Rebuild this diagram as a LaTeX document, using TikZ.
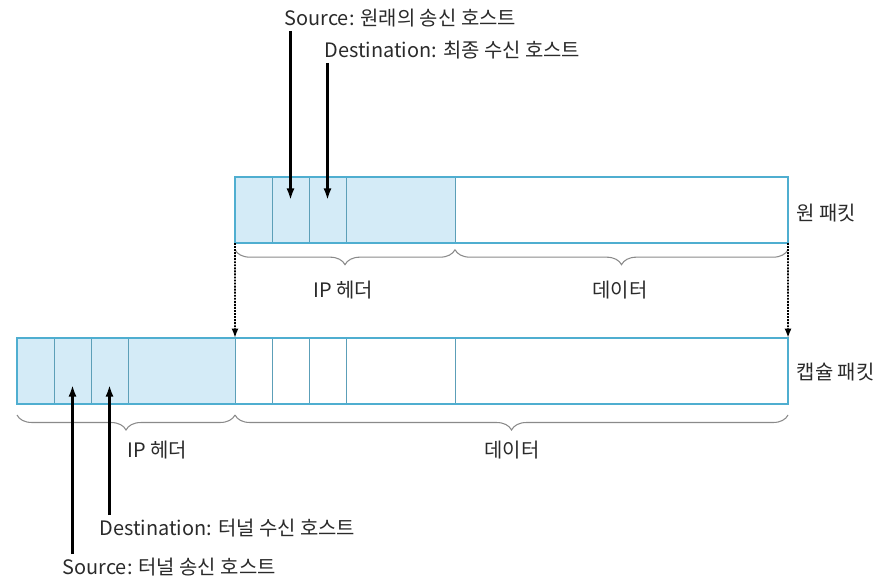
\documentclass[tikz,border=0pt]{standalone}
\usepackage{fontspec}
\setmainfont{Noto Sans CJK KR}
\usetikzlibrary{positioning,decorations.pathreplacing,arrows.meta}
\definecolor{hdrblue}{HTML}{D4EBF7}
\definecolor{edgeblue}{HTML}{4FAED0}
\definecolor{lineblue}{HTML}{5C9FB8}
\definecolor{bracegray}{HTML}{8A8A8A}
\definecolor{txtgray}{HTML}{2A2A2A}

\begin{document}
\begin{tikzpicture}[x=0.03cm,y=-0.03cm,
    field/.style={draw=lineblue, line width=0.6pt, minimum height=1.98cm, inner sep=0pt, outer sep=0pt},
    hdr/.style={field, fill=hdrblue},
    dat/.style={field, fill=white},
    lbl/.style={font=\fontsize{17}{20}\selectfont, text=txtgray, inner sep=3pt},
    brc/.style={draw=bracegray, line width=0.9pt, decorate, decoration={brace, mirror, amplitude=0.45cm}},
    outline/.style={draw=edgeblue, line width=1.7pt},
    ptr/.style={line width=2.2pt, -{Latex[length=10pt,width=7pt]}},
    copyarrow/.style={line width=1.6pt, densely dotted, -{Latex[length=8pt,width=6pt]}}]
        \useasboundingbox (0,0) rectangle (888,578);

        % original packet
        \node[hdr, minimum width=1.11cm, anchor=west] (o1) at (235,210) {};
        \node[hdr, minimum width=1.11cm, right=0pt of o1] (o2) {};
        \node[hdr, minimum width=1.11cm, right=0pt of o2] (o3) {};
        \node[hdr, minimum width=3.27cm, right=0pt of o3] (o4) {};
        \node[dat, minimum width=9.99cm, right=0pt of o4] (o5) {};
        \draw[outline] (o1.north west) rectangle (o5.south east);

        % encapsulated packet
        \node[hdr, minimum width=1.11cm, anchor=west] (e1) at (17,371) {};
        \node[hdr, minimum width=1.11cm, right=0pt of e1] (e2) {};
        \node[hdr, minimum width=1.11cm, right=0pt of e2] (e3) {};
        \node[hdr, minimum width=3.21cm, right=0pt of e3] (e4) {};
        \node[dat, minimum width=1.11cm, right=0pt of e4] (e5) {};
        \node[dat, minimum width=1.11cm, right=0pt of e5] (e6) {};
        \node[dat, minimum width=1.11cm, right=0pt of e6] (e7) {};
        \node[dat, minimum width=3.27cm, right=0pt of e7] (e8) {};
        \node[dat, minimum width=9.99cm, right=0pt of e8] (e9) {};
        \draw[outline] (e1.north west) rectangle (e9.south east);

        % braces
        \draw[brc] ([yshift=-0.2cm]o1.south west) -- ([yshift=-0.2cm]o4.south east);
        \draw[brc] ([yshift=-0.2cm]o5.south west) -- ([yshift=-0.2cm]o5.south east);
        \draw[brc] ([yshift=-0.33cm]e1.south west) -- ([yshift=-0.33cm]e4.south east);
        \draw[brc] ([yshift=-0.33cm]e5.south west) -- ([yshift=-0.33cm]e9.south east);

        \node[lbl] (ipO) at (343,290) {IP 헤더};
        \node[lbl] (dataO) at (620,290) {데이터};
        \node[lbl] (ipE) at (157,450) {IP 헤더};
        \node[lbl] (dataE) at (512,450) {데이터};
        \node[lbl, anchor=west] (origL) at (793,213) {원 패킷};
        \node[lbl, anchor=west] (encL) at (793,372) {캡슐 패킷};

        % address labels
        \node[lbl, anchor=west] (srcO) at (281,18) {Source: 원래의 송신 호스트};
        \node[lbl, anchor=west] (dstO) at (321,50) {Destination: 최종 수신 호스트};
        \node[lbl, anchor=west] (dstE) at (96,528) {Destination: 터널 수신 호스트};
        \node[lbl, anchor=west] (srcE) at (59,567) {Source: 터널 송신 호스트};

        \draw[ptr] (o2 |- srcO.south) -- ([yshift=0.3cm]o2.center);
        \draw[ptr] (o3 |- dstO.south) -- ([yshift=0.3cm]o3.center);
        \draw[ptr] (e2 |- srcE.north) -- ([yshift=-0.42cm]e2.center);
        \draw[ptr] (e3 |- dstE.north) -- ([yshift=-0.42cm]e3.center);

        % copy into payload
        \draw[copyarrow] (o1.south west) -- (e5.north west);
        \draw[copyarrow] (o5.south east) -- (e9.north east);

    \end{tikzpicture}
\end{document}
